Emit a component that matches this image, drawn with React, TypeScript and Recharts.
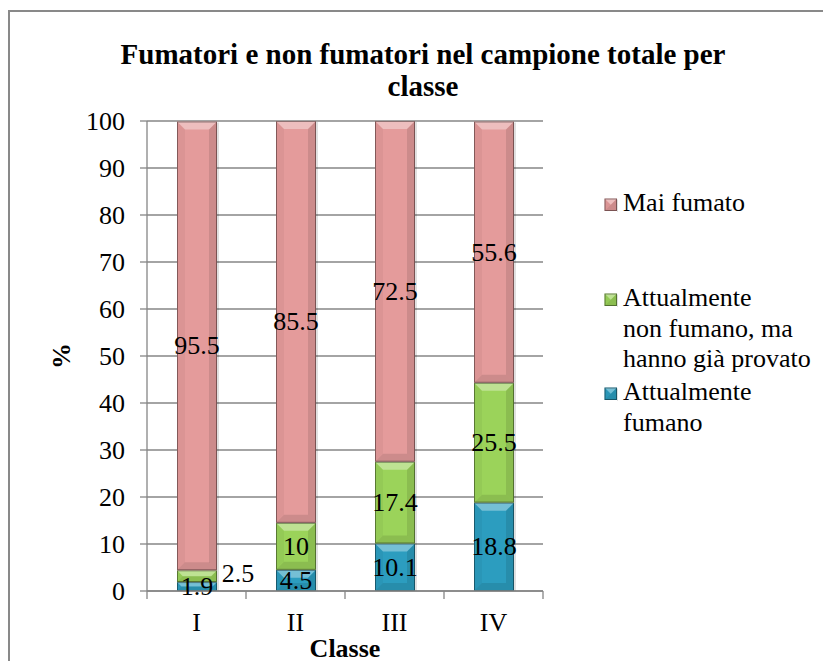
import React from 'react';
import { BarChart, Bar, XAxis, YAxis, CartesianGrid, LabelList, Legend, Label } from 'recharts';

const categories = ['I', 'II', 'III', 'IV'];
const fumano = [1.9, 4.5, 10.1, 18.8];
const provato = [2.5, 10, 17.4, 25.5];
const maiFumato = [95.5, 85.5, 72.5, 55.6];
const yTicks = [0, 10, 20, 30, 40, 50, 60, 70, 80, 90, 100];

const titleText = 'Fumatori e non fumatori nel campione totale per classe';
const xTitle = 'Classe';
const yTitle = '%';

const seriesKeys = ['fumano', 'provato', 'mai'];
const seriesNames = ['Attualmente\nfumano', 'Attualmente\nnon fumano, ma\nhanno già provato', 'Mai fumato'];
const seriesColors = ['#2C9DBF', '#9BD35A', '#E49B9B'];

const data = categories.map((c, i) => ({
  classe: c,
  fumano: fumano[i],
  provato: provato[i],
  mai: maiFumato[i],
}));

const FONT = "'Liberation Serif', 'Times New Roman', serif";
const GRID = '#868686';

function BevelShape(props: any) {
  const { x, y, width, height, fill } = props;
  if (!height || height <= 0 || !width) return null;
  const b = Math.min(8, height / 2, width / 2);
  const x2 = x + width;
  const y2 = y + height;
  const pts = (arr: number[][]) => arr.map((p) => p.join(',')).join(' ');
  return (
    <g>
      <rect x={x + width} y={y + 1} width={2} height={height} fill="#000" fillOpacity={0.12} />
      <rect x={x} y={y} width={width} height={height} fill={fill} />
      <polygon points={pts([[x, y], [x + b, y + b], [x + b, y2 - b], [x, y2]])} fill="#000" fillOpacity={0.04} />
      <polygon points={pts([[x2, y], [x2 - b, y + b], [x2 - b, y2 - b], [x2, y2]])} fill="#000" fillOpacity={0.1} />
      <polygon points={pts([[x, y], [x2, y], [x2 - b, y + b], [x + b, y + b]])} fill="#fff" fillOpacity={0.35} />
      <polygon points={pts([[x, y2], [x2, y2], [x2 - b, y2 - b], [x + b, y2 - b]])} fill="#000" fillOpacity={0.1} />
      <rect x={x + 0.5} y={y + 0.5} width={width - 1} height={height - 1} fill="none" stroke="#000" strokeOpacity={0.4} strokeWidth={1} />
    </g>
  );
}

const makeLabel = (shiftSmall: boolean) => (props: any) => {
  const vb = props.viewBox || props;
  const { x, y, width, height } = vb;
  const value = props.value;
  let cx = x + width / 2;
  let cy = y + height / 2;
  if (shiftSmall && Math.abs(height) < 15) {
    cx += width + 1;
    cy -= 3;
  }
  return (
    <text x={cx} y={cy} textAnchor="middle" dominantBaseline="central" fontSize={26} fontFamily={FONT} fill="#000">
      {value}
    </text>
  );
};

function XTick(props: any) {
  const { x, y, payload, index, visibleTicksCount } = props;
  const half = payload && typeof payload.offset === 'number' && payload.offset > 0 ? payload.offset : 49.5;
  const last = index === (visibleTicksCount ?? categories.length) - 1;
  return (
    <g>
      <line x1={x - half} x2={x - half} y1={y} y2={y + 8} stroke={GRID} strokeWidth={1.3} />
      {last && <line x1={x + half} x2={x + half} y1={y} y2={y + 8} stroke={GRID} strokeWidth={1.3} />}
      <text x={x} y={y + 40} textAnchor="middle" fontSize={26} fontFamily={FONT} fill="#000">
        {payload.value}
      </text>
    </g>
  );
}

function LegendMarker({ color }: { color: string }) {
  return (
    <svg width={14} height={14} style={{ position: 'absolute', left: 0, top: 10 }}>
      <BevelShape x={0.5} y={0.5} width={12.5} height={12.5} fill={color} />
    </svg>
  );
}

function renderLegend() {
  const order = [2, 1, 0];
  const tops = [0, 95, 189];
  return (
    <div style={{ position: 'relative', width: 220, height: 260, fontFamily: FONT, fontSize: 26, color: '#000' }}>
      {order.map((si, k) => (
        <div key={seriesKeys[si]} style={{ position: 'absolute', left: 0, top: tops[k] }}>
          <LegendMarker color={seriesColors[si]} />
          <div style={{ marginLeft: 19, lineHeight: '30.5px', whiteSpace: 'pre' }}>{seriesNames[si]}</div>
        </div>
      ))}
    </div>
  );
}

export default function App() {
  return (
    <div style={{ position: 'absolute', left: 0, top: 0, width: 823, height: 661, background: '#fff', overflow: 'hidden' }}>
      <div
        style={{
          position: 'absolute',
          left: 8,
          top: 10,
          width: 830,
          height: 670,
          borderLeft: '2px solid #898989',
          borderTop: '2px solid #898989',
        }}
      />
      <div
        style={{
          position: 'absolute',
          left: 98,
          top: 38,
          width: 650,
          textAlign: 'center',
          fontFamily: FONT,
          fontWeight: 'bold',
          fontSize: 29,
          lineHeight: '32px',
          color: '#000',
        }}
      >
        {titleText}
      </div>
      <div style={{ position: 'absolute', left: 0, top: 0 }}>
        <BarChart
          width={823}
          height={661}
          data={data}
          margin={{ top: 121, right: 280, bottom: 10, left: 47 }}
          barSize={40}
        >
          <CartesianGrid horizontal vertical={false} stroke={GRID} strokeWidth={1.3} />
          <XAxis
            dataKey="classe"
            height={60}
            interval={0}
            tickLine={false}
            tickSize={0}
            tickMargin={0}
            axisLine={{ stroke: GRID, strokeWidth: 1.3 }}
            tick={<XTick />}
          >
            <Label
              content={(p: any) => {
                const vb = p.viewBox;
                return (
                  <text x={vb.x + vb.width / 2} y={vb.y + 66} textAnchor="middle" fontSize={26} fontWeight="bold" fontFamily={FONT} fill="#000">
                    {xTitle}
                  </text>
                );
              }}
            />
          </XAxis>
          <YAxis
            width={100}
            domain={[0, 100]}
            ticks={yTicks}
            interval={0}
            allowDataOverflow
            tickSize={7}
            tickMargin={15}
            tickLine={{ stroke: GRID, strokeWidth: 1.3 }}
            axisLine={{ stroke: GRID, strokeWidth: 1.3 }}
            tick={{ fontSize: 26, fontFamily: FONT, fill: '#000' }}
          >
            <Label
              content={(p: any) => {
                const vb = p.viewBox;
                const cx = vb.x + 14;
                const cy = vb.y + vb.height / 2;
                return (
                  <text
                    x={cx}
                    y={cy}
                    transform={`rotate(-90 ${cx} ${cy})`}
                    textAnchor="middle"
                    dominantBaseline="central"
                    fontSize={26}
                    fontWeight="bold"
                    fontFamily={FONT}
                    fill="#000"
                  >
                    {yTitle}
                  </text>
                );
              }}
            />
          </YAxis>
          <Legend
            layout="horizontal"
            verticalAlign="middle"
            align="center"
            wrapperStyle={{ left: 604, top: 188, width: 220, height: 260 }}
            content={renderLegend}
          />
          {seriesKeys.map((k, i) => (
            <Bar
              key={k}
              dataKey={k}
              name={seriesNames[i]}
              stackId="a"
              fill={seriesColors[i]}
              shape={<BevelShape />}
              isAnimationActive={false}
            >
              <LabelList dataKey={k} content={makeLabel(k === 'provato')} />
            </Bar>
          ))}
        </BarChart>
      </div>
    </div>
  );
}
